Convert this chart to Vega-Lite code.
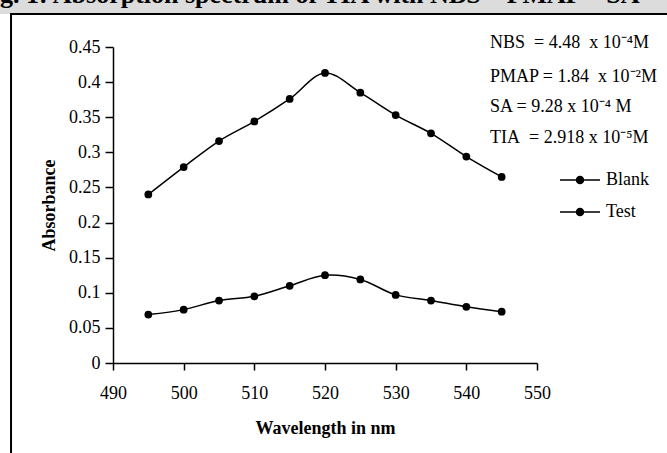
{
  "$schema": "https://vega.github.io/schema/vega-lite/v6.json",
  "width": 424,
  "height": 316,
  "autosize": {"type": "none"},
  "padding": {"left": 113, "top": 47, "right": 130, "bottom": 90},
  "background": "white",
  "config": {
    "view": {"stroke": null},
    "axis": {
      "domainColor": "black", "domainWidth": 1.5,
      "tickColor": "black", "tickWidth": 1.5,
      "labelFont": "Liberation Serif", "labelFontSize": 18, "labelColor": "black",
      "titleFont": "Liberation Serif", "titleFontSize": 18, "titleFontWeight": "bold", "titleColor": "black",
      "grid": false, "labelOverlap": false
    }
  },
  "encoding": {
    "x": {
      "type": "quantitative",
      "scale": {"domain": [490, 550], "nice": false, "zero": false},
      "axis": {"title": "Wavelength in nm", "values": [490, 500, 510, 520, 530, 540, 550], "tickSize": 7, "labelPadding": 14, "titlePadding": 17, "labelFlush": false}
    },
    "y": {
      "type": "quantitative",
      "scale": {"domain": [0, 0.45], "nice": false, "zero": false},
      "axis": {"title": "Absorbance", "values": [0, 0.05, 0.1, 0.15, 0.2, 0.25, 0.3, 0.35, 0.4, 0.45], "format": "~g", "tickSize": 8, "labelPadding": 5, "titlePadding": 10, "labelFlush": false}
    }
  },
  "layer": [
    {
      "data": {"values": [{}]},
      "mark": {"type": "rect", "fill": "#dcdcdc"},
      "encoding": {
        "x": {"datum": 470, "type": "quantitative"},
        "x2": {"datum": 570},
        "y": {"datum": 0.497, "type": "quantitative"},
        "y2": {"datum": 0.517}
      }
    },
    {
      "data": {"values": [{}]},
      "mark": {"type": "rect", "fillOpacity": 0, "stroke": "black", "strokeWidth": 2},
      "encoding": {
        "x": {"datum": 475.57, "type": "quantitative"},
        "x2": {"datum": 570},
        "y": {"datum": 0.497, "type": "quantitative"},
        "y2": {"datum": -0.2}
      }
    },
    {
      "data": {"values": [{"label": "Fig. 1: Absorption spectrum of TIA with NBS – PMAP – SA"}]},
      "mark": {"type": "text", "font": "Liberation Serif", "fontSize": 26, "fontWeight": "bold", "align": "left", "baseline": "alphabetic", "color": "black"},
      "encoding": {
        "x": {"datum": 470.75, "type": "quantitative"},
        "y": {"datum": 0.512, "type": "quantitative"},
        "text": {"field": "label"}
      }
    },
    {
      "data": {"values": [
        {"wavelength": 495, "absorbance": 0.240, "series": "Blank"},
        {"wavelength": 500, "absorbance": 0.279, "series": "Blank"},
        {"wavelength": 505, "absorbance": 0.316, "series": "Blank"},
        {"wavelength": 510, "absorbance": 0.344, "series": "Blank"},
        {"wavelength": 515, "absorbance": 0.376, "series": "Blank"},
        {"wavelength": 520, "absorbance": 0.413, "series": "Blank"},
        {"wavelength": 525, "absorbance": 0.385, "series": "Blank"},
        {"wavelength": 530, "absorbance": 0.353, "series": "Blank"},
        {"wavelength": 535, "absorbance": 0.327, "series": "Blank"},
        {"wavelength": 540, "absorbance": 0.294, "series": "Blank"},
        {"wavelength": 545, "absorbance": 0.265, "series": "Blank"},
        {"wavelength": 495, "absorbance": 0.069, "series": "Test"},
        {"wavelength": 500, "absorbance": 0.076, "series": "Test"},
        {"wavelength": 505, "absorbance": 0.089, "series": "Test"},
        {"wavelength": 510, "absorbance": 0.095, "series": "Test"},
        {"wavelength": 515, "absorbance": 0.110, "series": "Test"},
        {"wavelength": 520, "absorbance": 0.125, "series": "Test"},
        {"wavelength": 525, "absorbance": 0.119, "series": "Test"},
        {"wavelength": 530, "absorbance": 0.097, "series": "Test"},
        {"wavelength": 535, "absorbance": 0.089, "series": "Test"},
        {"wavelength": 540, "absorbance": 0.080, "series": "Test"},
        {"wavelength": 545, "absorbance": 0.073, "series": "Test"}
      ]},
      "mark": {"type": "line", "interpolate": "catmull-rom", "strokeWidth": 1.5, "point": {"filled": true, "size": 60, "color": "black"}},
      "encoding": {
        "x": {"field": "wavelength", "type": "quantitative"},
        "y": {"field": "absorbance", "type": "quantitative"},
        "color": {
          "field": "series", "type": "nominal",
          "scale": {"domain": ["Blank", "Test"], "range": ["black", "black"]},
          "legend": {
            "orient": "none", "legendX": 458, "legendY": 124, "title": null, "padding": 0,
            "symbolType": "M -4 0 H 4 M 0.7 0 A 0.7 0.7 0 1 1 -0.7 0 A 0.7 0.7 0 1 1 0.7 0 Z",
            "symbolSize": 100, "symbolStrokeWidth": 1.5, "symbolFillColor": "black", "symbolStrokeColor": "black",
            "labelFont": "Liberation Serif", "labelFontSize": 18, "labelColor": "black", "labelOffset": 17, "rowPadding": 14,
            "encode": {"symbols": {"update": {"fill": {"value": "black"}, "stroke": {"value": "black"}}}}
          }
        }
      }
    },
    {
      "data": {"values": [
        {"label": "NBS\u00a0 = 4.48\u00a0 x 10⁻⁴M", "wl": 543.35, "ab": 0.4482},
        {"label": "PMAP = 1.84\u00a0 x 10⁻²M", "wl": 543.35, "ab": 0.4006},
        {"label": "SA = 9.28 x 10⁻⁴ M", "wl": 543.35, "ab": 0.3579},
        {"label": "TIA\u00a0 = 2.918 x 10⁻⁵M", "wl": 543.35, "ab": 0.3133}
      ]},
      "mark": {"type": "text", "font": "Liberation Serif", "fontSize": 18, "align": "left", "baseline": "alphabetic", "color": "black"},
      "encoding": {
        "x": {"field": "wl", "type": "quantitative"},
        "y": {"field": "ab", "type": "quantitative"},
        "text": {"field": "label"}
      }
    }
  ]
}
